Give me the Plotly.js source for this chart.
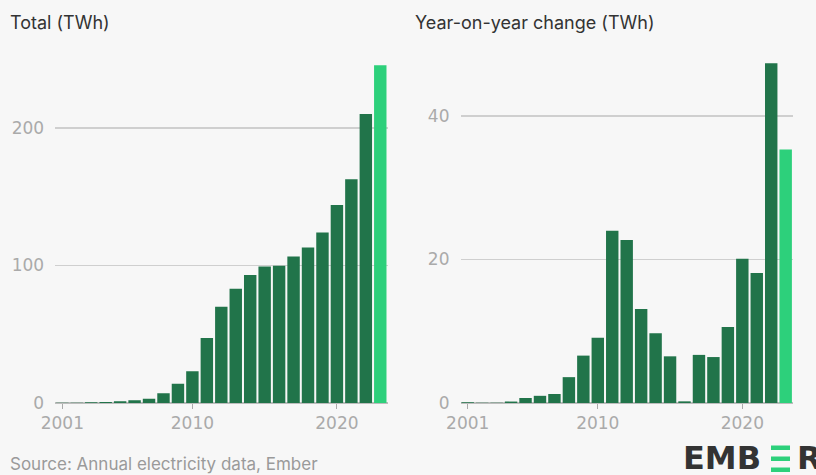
<!DOCTYPE html>
<html>
<head>
<meta charset="utf-8">
<script src="https://cdn.plot.ly/plotly-3.0.1.min.js"></script>
<style>
  html, body { margin: 0; padding: 0; background: #f7f7f7; }
  #chart { width: 816px; height: 475px; }
</style>
</head>
<body>
<div id="chart"></div>
<script>
const years = [2001,2002,2003,2004,2005,2006,2007,2008,2009,2010,2011,2012,2013,2014,2015,2016,2017,2018,2019,2020,2021,2022,2023];
const totalTWh = [0.1,0.2,0.5,0.7,1.2,2.0,3.1,7.0,14.0,23.0,47.2,70.0,83.0,93.0,99.3,99.8,106.5,113.0,124.0,144.0,162.7,210.0,245.5];
const yoyTWh = [0.1,0.05,0.05,0.2,0.7,1.0,1.25,3.6,6.6,9.1,24.0,22.7,13.1,9.7,6.5,0.23,6.7,6.4,10.6,20.1,18.1,47.3,35.3];
const xTickVals = [2001, 2010, 2020];
const xTickText = ['2001', '2010', '2020'];
const leftTickVals = [0, 100, 200];
const rightTickVals = [0, 20, 40];
const titleLeft = 'Total (TWh)';
const titleRight = 'Year-on-year change (TWh)';
const sourceText = 'Source: Annual electricity data, Ember';

const dark = '#21744a';
const light = '#2dd07b';
const colors = years.map((y, i) => i === years.length - 1 ? light : dark);

const W = 816, H = 475;
const px = v => v / W;
const py = v => (H - v) / H;

const traces = [
  { type: 'bar', x: years, y: totalTWh, marker: { color: colors }, xaxis: 'x', yaxis: 'y', hoverinfo: 'x+y' },
  { type: 'bar', x: years, y: yoyTWh, marker: { color: colors }, xaxis: 'x2', yaxis: 'y2', hoverinfo: 'x+y' }
];

const tickFont = { family: '"DejaVu Sans", sans-serif', size: 17, color: '#aaaaaa' };
const xCommon = {
  range: [2000.5, 2023.5], tickvals: xTickVals, ticktext: xTickText,
  ticks: 'outside', ticklen: 5, tickcolor: '#aaaaaa', tickwidth: 1,
  showgrid: false, zeroline: false, showline: false, tickfont: tickFont, fixedrange: true
};
const yCommon = {
  showgrid: true, gridcolor: '#cfcfcf', gridwidth: 1.5, zeroline: true, zerolinecolor: '#bdbdbd', zerolinewidth: 1.5,
  tickfont: tickFont, ticks: '', ticklabelstandoff: 10, showline: false, fixedrange: true
};

const layout = {
  width: W, height: H,
  margin: { l: 0, r: 0, t: 0, b: 0 },
  paper_bgcolor: '#f7f7f7', plot_bgcolor: 'rgba(0,0,0,0)',
  showlegend: false, bargap: 0.14,
  xaxis: Object.assign({}, xCommon, { domain: [px(55.1), px(387.5)], anchor: 'y' }),
  yaxis: Object.assign({}, yCommon, { domain: [py(403), py(60)], range: [0, 249.3], tickvals: leftTickVals, anchor: 'x' }),
  xaxis2: Object.assign({}, xCommon, { domain: [px(460.5), px(792.9)], anchor: 'y2' }),
  yaxis2: Object.assign({}, yCommon, { domain: [py(403), py(60)], range: [0, 47.77], tickvals: rightTickVals, anchor: 'x2' }),
  annotations: [
    { text: titleLeft, xref: 'paper', yref: 'paper', x: px(8), y: py(23), xanchor: 'left', yanchor: 'middle', showarrow: false,
      font: { family: 'Inter, sans-serif', size: 18, color: '#333333' } },
    { text: titleRight, xref: 'paper', yref: 'paper', x: px(413), y: py(23), xanchor: 'left', yanchor: 'middle', showarrow: false,
      font: { family: 'Inter, sans-serif', size: 18, color: '#333333' } },
    { text: sourceText, xref: 'paper', yref: 'paper', x: px(8), y: py(464), xanchor: 'left', yanchor: 'middle', showarrow: false,
      font: { family: 'Inter, sans-serif', size: 17, color: '#9a9a9a' } },
    { text: '<b>EMB</b>', xref: 'paper', yref: 'paper', x: px(681), y: py(458), xanchor: 'left', yanchor: 'middle', showarrow: false,
      font: { family: '"DejaVu Sans", sans-serif', size: 32, color: '#333333' } },
    { text: '<b>R</b>', xref: 'paper', yref: 'paper', x: px(795), y: py(458), xanchor: 'left', yanchor: 'middle', showarrow: false,
      font: { family: '"DejaVu Sans", sans-serif', size: 32, color: '#333333' } }
  ],
  shapes: [
    { type: 'rect', xref: 'paper', yref: 'paper', x0: px(771), x1: px(790), y0: py(450), y1: py(445.5), fillcolor: light, line: { width: 0 } },
    { type: 'rect', xref: 'paper', yref: 'paper', x0: px(771), x1: px(790), y0: py(461), y1: py(456.5), fillcolor: light, line: { width: 0 } },
    { type: 'rect', xref: 'paper', yref: 'paper', x0: px(771), x1: px(790), y0: py(472), y1: py(467.5), fillcolor: light, line: { width: 0 } }
  ]
};

Plotly.newPlot('chart', traces, layout, { displayModeBar: false, staticPlot: true });
</script>
</body>
</html>
